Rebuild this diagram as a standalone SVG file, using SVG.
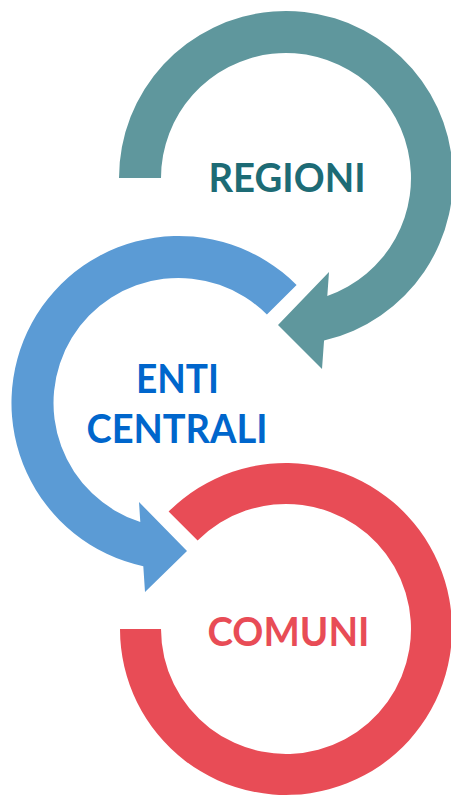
<svg xmlns="http://www.w3.org/2000/svg" width="451" height="796" viewBox="0 0 451 796">
<style>
.lbl{font-family:Lato,"Open Sans","Liberation Sans",sans-serif;font-weight:700;font-size:41px;text-anchor:middle}
</style>
<rect width="451" height="796" fill="#ffffff"/>
<g id="connectors">
<path id="arc-regioni" fill="#5F979D" d="M 119 178 A 167 167 0 1 1 324.05 340.6 L 322 369 L 278 325 L 329 272 L 327.3 296 A 125 125 0 1 0 161 178 Z"/>
<path id="arc-enti" fill="#5B9BD5" d="M 296.6 284.9 A 167 167 0 1 0 143.3 566.2 L 145 592 L 187 551 L 139 502 L 140.3 522 A 125 125 0 1 1 266.9 314.6 Z"/>
<path id="arc-comuni" fill="#E84C56" d="M 168.6 511.6 A 166 166 0 1 1 120 629 L 161 629 A 125 125 0 1 0 197.6 540.6 Z"/>
</g>
<g id="node-regioni">
<text class="lbl" x="287" y="192" fill="#1D6B75" textLength="157" lengthAdjust="spacingAndGlyphs">REGIONI</text>
</g>
<g id="node-enti-centrali">
<text class="lbl" x="177.5" y="393" fill="#0066CC" textLength="83" lengthAdjust="spacingAndGlyphs">ENTI</text>
<text class="lbl" x="177" y="443" fill="#0066CC" textLength="181" lengthAdjust="spacingAndGlyphs">CENTRALI</text>
</g>
<g id="node-comuni">
<text class="lbl" x="288.5" y="646" fill="#E84C56" textLength="162" lengthAdjust="spacingAndGlyphs">COMUNI</text>
</g>
</svg>
